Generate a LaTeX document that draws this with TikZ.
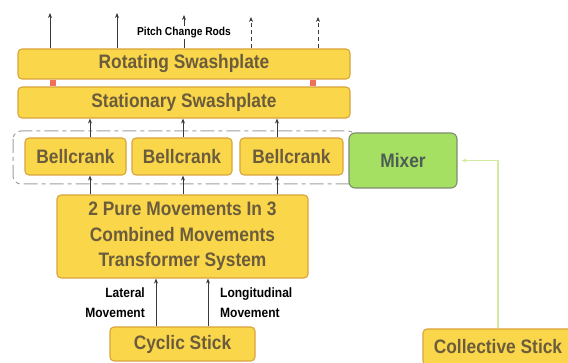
\documentclass[tikz,border=0pt]{standalone}
\usepackage{fontspec}
\newfontfamily\cf{Liberation Sans}[FakeStretch=0.89]
\usetikzlibrary{arrows.meta}
\definecolor{yfill}{HTML}{FAD64A}
\definecolor{yedge}{HTML}{D9A43C}
\definecolor{ytext}{HTML}{6A5C3C}
\definecolor{gfill}{HTML}{A6E062}
\definecolor{gedge}{HTML}{7E8C70}
\definecolor{gtext}{HTML}{4E5C56}
\definecolor{rodred}{HTML}{F0705A}
\definecolor{arr}{HTML}{3A3A3A}
\definecolor{dashg}{HTML}{A0A0A0}
\definecolor{lgreen}{HTML}{D3EAA0}
\begin{document}
\begin{tikzpicture}[x=1pt,y=-1pt,
  ybox/.style={draw=yedge, line width=1.1pt, fill=yfill, rounded corners=4pt,
    text=ytext, font=\cf\bfseries\fontsize{19.5}{25.5}\selectfont, inner sep=0pt, align=center},
  gbox/.style={draw=gedge, line width=1.1pt, fill=gfill, rounded corners=6pt,
    text=gtext, font=\cf\bfseries\fontsize{19.5}{25.5}\selectfont, inner sep=0pt},
  lbl/.style={text=black, font=\cf\bfseries\fontsize{13.5}{20}\selectfont, inner sep=0pt},
  rodlbl/.style={text=black, font=\cf\bfseries\fontsize{11.5}{13}\selectfont, inner sep=0pt},
  arrow/.style={draw=arr, line width=0.9pt, -{Stealth[length=5pt,width=4pt]}},
  rodline/.style={draw=arr, line width=0.9pt},
  dashedarrow/.style={arrow, dash pattern=on 4pt off 3pt},
  grp/.style={draw=dashg, line width=1pt, rounded corners=8pt, dash pattern=on 14pt off 4pt on 4pt off 4pt},
  link/.style={fill=rodred, draw=none},
  feed/.style={draw=lgreen, line width=1.2pt, -{Stealth[length=5pt,width=4pt]}}
]
\useasboundingbox (0,0) rectangle (568,363);
\clip (0,0) rectangle (568,363);

% dashed group around bellcranks
\draw[grp] (13,131) rectangle (356,184);

% swashplates
\node[ybox, minimum width=332pt, minimum height=30pt] (rot) at (184,64) {Rotating Swashplate};
\node[ybox, minimum width=332pt, minimum height=31pt] (stat) at (184,102.5) {Stationary Swashplate};
\fill[link] (50,79.6) rectangle (56,86.4);
\fill[link] (310,79.6) rectangle (316,86.4);

% bellcranks and mixer
\node[ybox, minimum width=101pt, minimum height=37pt] (b1) at (75.5,156.5) {Bellcrank};
\node[ybox, minimum width=100pt, minimum height=37pt] (b2) at (182,156.5) {Bellcrank};
\node[ybox, minimum width=103pt, minimum height=37pt] (b3) at (291.5,156.5) {Bellcrank};
\node[gbox, minimum width=108pt, minimum height=55pt] (mix) at (403,160.5) {Mixer};

% transformer
\node[ybox, minimum width=251pt, minimum height=83pt] (tr) at (182.5,236.5)
  {2 Pure Movements In 3\\Combined Movements\\Transformer System};

% sticks
\node[ybox, minimum width=145pt, minimum height=34pt] (cyc) at (182.5,344) {Cyclic Stick};
\node[ybox, minimum width=150pt, minimum height=36pt] (col) at (498,347) {Collective Stick};

% pitch change rods
\coordinate (t1) at (50,13);
\coordinate (t2) at (117,13);
\coordinate (t3) at (184,15);
\coordinate (t4) at (251,17);
\coordinate (t5) at (318,17);
\node[rodlbl] (pcr) at (184,33) {Pitch Change Rods};
\draw[arrow] (rot.north -| t1) -- (t1);
\draw[arrow] (rot.north -| t2) -- (t2);
\draw[rodline] (rot.north) -- (pcr.south);
\draw[arrow] (pcr.north) ++(0,-1) -- (t3);
\draw[dashedarrow] (rot.north -| t4) -- (t4);
\draw[dashedarrow] (rot.north -| t5) -- (t5);

% bellcranks to stationary swashplate
\draw[arrow] (b1.north -| 90,0) -- (stat.south -| 90,0);
\draw[arrow] (b2.north -| 183,0) -- (stat.south -| 183,0);
\draw[arrow] (b3.north -| 277,0) -- (stat.south -| 277,0);

% transformer to bellcranks
\draw[arrow] (tr.north -| 90,0) -- (b1.south -| 90,0);
\draw[arrow] (tr.north -| 183,0) -- (b2.south -| 183,0);
\draw[arrow] (tr.north -| 277,0) -- (b3.south -| 277,0);

% cyclic stick to transformer
\draw[arrow] (cyc.north -| 156,0) -- (tr.south -| 156,0);
\draw[arrow] (cyc.north -| 208,0) -- (tr.south -| 208,0);
\node[lbl, align=right, anchor=east] (lat) at (145,303) {Lateral\\Movement};
\node[lbl, align=left, anchor=west] (lon) at (220,303) {Longitudinal\\Movement};

% collective stick to mixer
\draw[feed] (col.north) |- ([xshift=4pt]mix.east);
\end{tikzpicture}
\end{document}
